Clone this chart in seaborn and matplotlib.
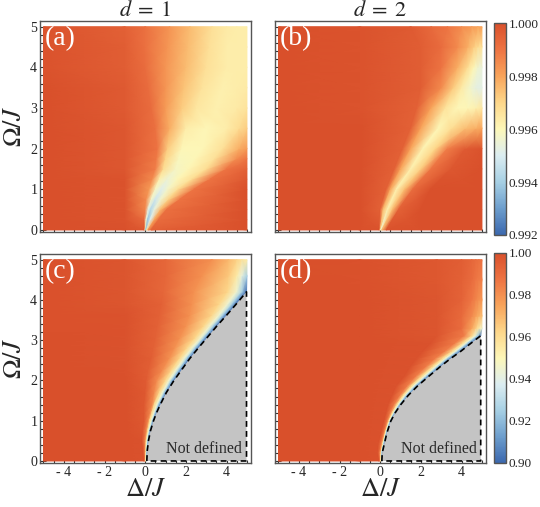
import matplotlib
matplotlib.use("Agg")
import matplotlib.pyplot as plt
from matplotlib.colors import LinearSegmentedColormap
from matplotlib.ticker import MultipleLocator
import numpy as np
import seaborn as sns

# ---- values (rows of Omega, knots along Delta) ----
A_OMEGA = [0.0, 0.25, 0.5, 0.75, 1.0, 1.25, 1.5, 1.75, 2.0, 2.5, 3.0, 3.5, 4.0, 4.5, 5.0]
A_DELTA = [
    [-5, -1, -0.05, 0.0, 0.03, 0.07, 0.15, 0.3, 5],
    [-5, -1, -0.05, 0.05, 0.12, 0.25, 0.45, 0.65, 5],
    [-5, -1, 0.0, 0.15, 0.27, 0.45, 0.75, 1.05, 5],
    [-5, -1, 0.05, 0.3, 0.5, 0.75, 1.15, 1.7, 5],
    [-5, -1, 0.2, 0.5, 0.8, 1.1, 1.6, 2.4, 5],
    [-5, -1, 0.35, 0.7, 1.1, 1.6, 2.3, 3.2, 5],
    [-5, -1, 0.5, 0.9, 1.5, 2.1, 3.0, 4.0, 5],
    [-5, -1, 0.55, 1.0, 1.65, 2.45, 3.4, 4.5, 5],
    [-5, -1, 0.6, 1.1, 1.8, 2.8, 3.8, 4.6, 5],
    [-5, -1, 0.5, 1.2, 2.0, 3.0, 4.0, 4.6, 5],
    [-5, -1, 0.3, 1.0, 1.8, 2.5, 3.5, 4.5, 5],
    [-5, -1, 0.15, 1.0, 1.9, 2.8, 3.8, 4.5, 5],
    [-5, -1, 0.0, 1.0, 2.0, 3.0, 4.0, 4.5, 5],
    [-5, -1, 0.0, 1.1, 2.1, 3.15, 4.0, 4.5, 5],
    [-5, -1, 0.0, 1.2, 2.2, 3.3, 4.0, 4.5, 5],
]
A_VALUE = [
    [1.0, 1.0, 0.9998, 0.9968, 0.9937, 0.9968, 0.9985, 0.9995, 1.0],
    [1.0, 0.9999, 0.9993, 0.9955, 0.9937, 0.9950, 0.9980, 0.9992, 1.0],
    [1.0, 0.9999, 0.9986, 0.9952, 0.9942, 0.9953, 0.9976, 0.9991, 1.0],
    [1.0, 0.9999, 0.9985, 0.9957, 0.9947, 0.9956, 0.9971, 0.9990, 1.0],
    [1.0, 0.9999, 0.9982, 0.9958, 0.9951, 0.9957, 0.9968, 0.9990, 1.0],
    [1.0, 0.9999, 0.9985, 0.9962, 0.9955, 0.9960, 0.9968, 0.9990, 0.9998],
    [1.0, 0.9998, 0.9988, 0.9968, 0.9958, 0.9960, 0.9968, 0.9990, 0.9995],
    [1.0, 0.9998, 0.9989, 0.9970, 0.9959, 0.9960, 0.9967, 0.9985, 0.9990],
    [1.0, 0.9998, 0.9990, 0.9972, 0.9960, 0.9960, 0.9967, 0.9978, 0.9982],
    [1.0, 0.9998, 0.9991, 0.9978, 0.9963, 0.9960, 0.9963, 0.9968, 0.9972],
    [1.0, 0.9997, 0.9992, 0.9982, 0.9972, 0.9965, 0.9962, 0.9964, 0.9966],
    [1.0, 0.9997, 0.9992, 0.9983, 0.9974, 0.9966, 0.9962, 0.9963, 0.9964],
    [0.9999, 0.9996, 0.9992, 0.9983, 0.9975, 0.9967, 0.9963, 0.9963, 0.9963],
    [0.9999, 0.9996, 0.9991, 0.9983, 0.9975, 0.9967, 0.9963, 0.9963, 0.9963],
    [0.9999, 0.9995, 0.9991, 0.9983, 0.9975, 0.9967, 0.9964, 0.9963, 0.9963],
]

B_OMEGA = [0.0, 0.5, 1.0, 1.5, 2.0, 2.5, 3.0, 3.5, 4.0, 4.5, 5.0]
B_DELTA = [
    [-5, -1, -0.05, 0.0, 0.03, 0.08, 0.3, 2.0, 5],
    [-5, -1, 0.0, 0.15, 0.36, 0.6, 0.9, 2.0, 5],
    [-5, -1, 0.3, 0.5, 0.8, 1.2, 1.6, 2.5, 5],
    [-5, -1, 0.7, 1.0, 1.5, 2.0, 2.5, 3.5, 5],
    [-5, -1, 1.1, 1.5, 2.1, 2.7, 3.3, 4.2, 5],
    [-5, -1, 1.5, 2.0, 2.85, 3.5, 4.2, 4.7, 5],
    [-5, -1, 1.8, 2.5, 3.2, 3.8, 4.3, 4.7, 5],
    [-5, -1, 2.0, 3.0, 3.6, 4.0, 4.4, 4.7, 5],
    [-5, -1, 2.0, 3.0, 3.8, 4.3, 4.6, 4.8, 5],
    [-5, -1, 2.0, 3.0, 3.8, 4.3, 4.6, 4.8, 5],
    [-5, -1, 1.5, 2.5, 3.3, 4.0, 4.5, 4.8, 5],
]
B_VALUE = [
    [1.0, 1.0, 0.9999, 0.9975, 0.9955, 0.9975, 0.9999, 1.0, 1.0],
    [1.0, 1.0, 0.9995, 0.9975, 0.9962, 0.9975, 0.9995, 1.0, 1.0],
    [1.0, 1.0, 0.9995, 0.9980, 0.9962, 0.9975, 0.9992, 1.0, 1.0],
    [1.0, 1.0, 0.9995, 0.9980, 0.9962, 0.9972, 0.9990, 0.9998, 1.0],
    [1.0, 1.0, 0.9995, 0.9980, 0.9961, 0.9970, 0.9988, 0.9997, 0.9999],
    [1.0, 1.0, 0.9995, 0.9980, 0.9960, 0.9968, 0.9975, 0.9978, 0.9980],
    [1.0, 0.9999, 0.9995, 0.9980, 0.9966, 0.9960, 0.9960, 0.9962, 0.9965],
    [1.0, 0.9999, 0.9996, 0.9985, 0.9972, 0.9964, 0.9957, 0.9953, 0.9952],
    [1.0, 0.9999, 0.9996, 0.9990, 0.9978, 0.9968, 0.9960, 0.9956, 0.9954],
    [1.0, 0.9999, 0.9996, 0.9992, 0.9985, 0.9978, 0.9972, 0.9968, 0.9966],
    [1.0, 0.9999, 0.9997, 0.9993, 0.9990, 0.9985, 0.9982, 0.9980, 0.9980],
]

# (c) and (d): the last knot of the lower rows lies on the "not defined" border
C_OMEGA = [0.0, 0.25, 0.5, 0.75, 1.0, 1.2, 1.4, 1.7, 1.98, 2.25, 2.55, 2.8,
           3.05, 3.35, 3.62, 3.9, 4.2, 4.6, 5.0]
C_DELTA = [
    [-5, -1, -0.05, 0.0, 0.03, 0.05, 0.065, 0.08],
    [-5, -1, -0.10, 0.0, 0.03, 0.06, 0.08, 0.10],
    [-5, -1, -0.15, 0.0, 0.05, 0.09, 0.125, 0.16],
    [-5, -1, -0.12, 0.06, 0.12, 0.17, 0.215, 0.26],
    [-5, -1, -0.05, 0.15, 0.22, 0.30, 0.36, 0.41],
    [-5, -1, -0.05, 0.25, 0.33, 0.43, 0.50, 0.56],
    [-5, -1, -0.05, 0.35, 0.45, 0.58, 0.66, 0.74],
    [-5, -1, 0.0, 0.45, 0.70, 0.85, 0.95, 1.04],
    [-5, -1, 0.05, 0.57, 0.98, 1.15, 1.27, 1.39],
    [-5, -1, 0.15, 0.85, 1.30, 1.50, 1.64, 1.77],
    [-5, -1, 0.3, 1.2, 1.70, 1.92, 2.06, 2.20],
    [-5, -1, 0.4, 1.45, 2.05, 2.30, 2.45, 2.60],
    [-5, -1, 0.5, 1.7, 2.45, 2.72, 2.87, 3.02],
    [-5, -1, 0.6, 2.0, 2.88, 3.18, 3.36, 3.52],
    [-5, -1, 0.7, 2.2, 3.28, 3.63, 3.82, 4.00],
    [-5, -1, 0.8, 2.3, 3.65, 4.05, 4.28, 4.48],
    [-5, -1, 0.9, 2.4, 4.05, 4.48, 4.75, 4.98],
    [-5, -1, 1.0, 2.8, 4.1, 4.5, 4.75, 5.0],
    [-5, -1, 1.0, 3.3, 4.1, 4.5, 4.75, 5.0],
]
C_VALUE = [
    [1.0, 1.0, 0.999, 0.982, 0.962, 0.945, 0.925, 0.90],
    [1.0, 1.0, 0.999, 0.982, 0.962, 0.945, 0.925, 0.90],
    [1.0, 1.0, 0.999, 0.982, 0.962, 0.945, 0.925, 0.90],
    [1.0, 1.0, 0.998, 0.982, 0.962, 0.945, 0.925, 0.90],
    [1.0, 1.0, 0.997, 0.982, 0.962, 0.945, 0.925, 0.90],
    [1.0, 1.0, 0.997, 0.982, 0.962, 0.945, 0.925, 0.90],
    [1.0, 1.0, 0.997, 0.982, 0.962, 0.945, 0.925, 0.90],
    [1.0, 1.0, 0.997, 0.982, 0.962, 0.945, 0.925, 0.90],
    [1.0, 1.0, 0.996, 0.981, 0.962, 0.945, 0.925, 0.90],
    [1.0, 0.9995, 0.995, 0.981, 0.962, 0.945, 0.925, 0.90],
    [1.0, 0.999, 0.995, 0.980, 0.962, 0.945, 0.925, 0.90],
    [1.0, 0.999, 0.994, 0.980, 0.962, 0.945, 0.925, 0.90],
    [1.0, 0.999, 0.994, 0.980, 0.962, 0.945, 0.925, 0.90],
    [0.9995, 0.999, 0.994, 0.980, 0.962, 0.945, 0.925, 0.90],
    [0.9995, 0.999, 0.994, 0.980, 0.962, 0.945, 0.925, 0.90],
    [0.9995, 0.998, 0.994, 0.980, 0.962, 0.945, 0.925, 0.90],
    [0.9995, 0.998, 0.992, 0.980, 0.962, 0.945, 0.925, 0.90],
    [0.9995, 0.998, 0.992, 0.980, 0.966, 0.955, 0.942, 0.925],
    [0.9995, 0.998, 0.992, 0.980, 0.970, 0.964, 0.958, 0.955],
]
C_BORDER_OMEGA = [0.0, 0.25, 0.5, 0.75, 1.0, 1.2, 1.4, 1.7, 1.98, 2.25, 2.55, 2.8,
                  3.05, 3.35, 3.62, 3.9, 4.2]
C_BORDER_DELTA = [0.08, 0.10, 0.16, 0.26, 0.41, 0.56, 0.74, 1.04, 1.39, 1.77, 2.20, 2.60,
                  3.02, 3.52, 4.00, 4.48, 4.98]

D_OMEGA = [0.0, 0.2, 0.42, 0.7, 0.99, 1.2, 1.4, 1.63, 1.86, 2.1, 2.35, 2.54, 2.72,
           2.92, 3.11, 3.3, 3.6, 4.0, 4.5, 5.0]
D_DELTA = [
    [-5, -1, -0.05, 0.0, 0.03, 0.05, 0.065, 0.08],
    [-5, -1, -0.12, -0.02, 0.04, 0.06, 0.08, 0.10],
    [-5, -1, -0.08, 0.05, 0.12, 0.15, 0.175, 0.20],
    [-5, -1, 0.05, 0.19, 0.25, 0.28, 0.305, 0.33],
    [-5, -1, 0.2, 0.35, 0.42, 0.46, 0.49, 0.52],
    [-5, -1, 0.3, 0.50, 0.60, 0.66, 0.70, 0.74],
    [-5, -1, 0.4, 0.69, 0.82, 0.89, 0.95, 1.01],
    [-5, -1, 0.6, 0.98, 1.13, 1.22, 1.30, 1.38],
    [-5, -1, 0.8, 1.33, 1.52, 1.63, 1.73, 1.83],
    [-5, -1, 1.2, 1.76, 2.03, 2.16, 2.27, 2.38],
    [-5, -1, 1.5, 2.28, 2.59, 2.73, 2.85, 2.97],
    [-5, -1, 1.8, 2.70, 3.05, 3.19, 3.31, 3.45],
    [-5, -1, 2.1, 3.18, 3.53, 3.68, 3.80, 3.95],
    [-5, -1, 2.5, 3.67, 4.03, 4.18, 4.30, 4.45],
    [-5, -1, 2.8, 4.12, 4.50, 4.66, 4.79, 4.94],
    [-5, -1, 2.8, 4.0, 4.5, 4.7, 4.85, 5.0],
    [-5, -1, 2.8, 4.0, 4.5, 4.7, 4.85, 5.0],
    [-5, -1, 2.8, 4.0, 4.5, 4.7, 4.85, 5.0],
    [-5, -1, 2.8, 4.0, 4.5, 4.7, 4.85, 5.0],
    [-5, -1, 2.8, 4.0, 4.5, 4.7, 4.85, 5.0],
]
D_VALUE = [
    [1.0, 1.0, 0.999, 0.985, 0.962, 0.945, 0.925, 0.90],
    [1.0, 1.0, 0.999, 0.985, 0.962, 0.945, 0.925, 0.90],
    [1.0, 1.0, 0.999, 0.985, 0.962, 0.945, 0.925, 0.90],
    [1.0, 1.0, 0.999, 0.985, 0.962, 0.945, 0.925, 0.90],
    [1.0, 1.0, 0.999, 0.985, 0.962, 0.945, 0.925, 0.90],
    [1.0, 1.0, 0.999, 0.985, 0.962, 0.945, 0.925, 0.90],
    [1.0, 1.0, 0.999, 0.985, 0.962, 0.945, 0.925, 0.90],
    [1.0, 1.0, 0.999, 0.985, 0.962, 0.945, 0.925, 0.90],
    [1.0, 1.0, 0.999, 0.985, 0.962, 0.945, 0.925, 0.90],
    [1.0, 1.0, 0.999, 0.985, 0.962, 0.945, 0.925, 0.90],
    [1.0, 1.0, 0.999, 0.985, 0.962, 0.945, 0.925, 0.90],
    [1.0, 1.0, 0.999, 0.985, 0.962, 0.945, 0.925, 0.90],
    [1.0, 1.0, 0.999, 0.985, 0.962, 0.945, 0.925, 0.90],
    [1.0, 1.0, 0.999, 0.985, 0.962, 0.945, 0.925, 0.90],
    [1.0, 1.0, 0.998, 0.985, 0.962, 0.945, 0.925, 0.90],
    [1.0, 1.0, 0.998, 0.990, 0.975, 0.965, 0.955, 0.945],
    [1.0, 1.0, 0.998, 0.991, 0.982, 0.976, 0.972, 0.968],
    [1.0, 1.0, 0.998, 0.993, 0.987, 0.983, 0.980, 0.978],
    [1.0, 0.9995, 0.997, 0.994, 0.990, 0.987, 0.985, 0.984],
    [1.0, 0.9995, 0.997, 0.995, 0.992, 0.990, 0.989, 0.988],
]
D_BORDER_OMEGA = [0.0, 0.2, 0.42, 0.7, 0.99, 1.2, 1.4, 1.63, 1.86, 2.1, 2.35, 2.54,
                  2.72, 2.92, 3.11]
D_BORDER_DELTA = [0.08, 0.10, 0.20, 0.33, 0.52, 0.74, 1.01, 1.38, 1.83, 2.38, 2.97, 3.45,
                  3.95, 4.45, 4.94]

TOP_TICKS = [0.992, 0.994, 0.996, 0.998, 1.000]
BOTTOM_TICKS = [0.90, 0.92, 0.94, 0.96, 0.98, 1.00]
X_TICKS = [-4, -2, 0, 2, 4]
X_TICKLABELS = ["- 4", "- 2", "0", "2", "4"]
Y_TICKS = [0, 1, 2, 3, 4, 5]

CMAP_STOPS = [0.0, 0.125, 0.25, 0.375, 0.5, 0.625, 0.75, 0.875, 1.0]
CMAP_COLORS = ["#3b68ae", "#6d9ecd", "#a7d0e4", "#dcedf1", "#fdf7b8",
               "#fdd78a", "#f8a45b", "#ee7443", "#d9502b"]

sns.set_theme(style="ticks")
plt.rcParams["font.family"] = ["Liberation Serif", "DejaVu Serif"]
plt.rcParams["mathtext.fontset"] = "stix"

cmap = LinearSegmentedColormap.from_list("temp", list(zip(CMAP_STOPS, CMAP_COLORS)))
FRAME = "#555555"


def draw_field(ax, omega, delta, value, vmin, vmax):
    X = np.array(delta, dtype=float)
    Y = np.repeat(np.array(omega, dtype=float)[:, None], X.shape[1], axis=1)
    C = np.array(value, dtype=float)
    return ax.pcolormesh(X, Y, C, shading="gouraud", cmap=cmap, vmin=vmin, vmax=vmax)


def not_defined(ax, b_omega, b_delta):
    xs = list(b_delta) + [b_delta[-1], b_delta[0]]
    ys = list(b_omega) + [0.0, 0.0]
    ax.fill(xs, ys, facecolor="#c4c4c4", edgecolor="none", zorder=3)
    sns.lineplot(x=xs, y=ys, sort=False, estimator=None, ax=ax, color="black",
                 linewidth=1.2, linestyle=(0, (3.5, 2.5)), zorder=4)
    ax.text(4.75, 0.2, "Not defined", ha="right", va="baseline", fontsize=11.5,
            color="#2a2a2a", zorder=5)


def style_axes(ax, label, xlabels, ylabels):
    ax.set_xlim(-5.17, 5.2)
    ax.set_ylim(-0.05, 5.14)
    ax.set_facecolor("white")
    for sp in ax.spines.values():
        sp.set_color(FRAME)
        sp.set_linewidth(1.0)
    ax.set_xticks(X_TICKS)
    ax.set_yticks(Y_TICKS)
    ax.xaxis.set_minor_locator(MultipleLocator(0.5))
    ax.yaxis.set_minor_locator(MultipleLocator(0.2))
    ax.tick_params(which="both", direction="in", top=False, right=False,
                   color="#333333", width=0.8, labelsize=10, pad=2)
    ax.tick_params(which="major", length=4)
    ax.tick_params(which="minor", length=2)
    if xlabels:
        ax.set_xticklabels(X_TICKLABELS)
        ax.set_xlabel(r"$\Delta/J$", fontsize=19, labelpad=0)
    else:
        ax.set_xticklabels([])
    if ylabels:
        ax.set_yticklabels([str(t) for t in Y_TICKS])
        ax.set_ylabel(r"$\Omega/J$", fontsize=19, labelpad=3)
    else:
        ax.set_yticklabels([])
    ax.text(-4.95, 5.02, label, color="white", fontsize=20, ha="left", va="top", zorder=6)


def style_cbar(cb, ticks, fmt, minor_step):
    cb.set_ticks(ticks)
    cb.set_ticklabels([fmt.format(t) for t in ticks])
    cb.ax.yaxis.set_minor_locator(MultipleLocator(minor_step))
    cb.ax.tick_params(which="both", direction="in", color="#333333", width=0.7,
                      labelsize=9.5, pad=2)
    cb.ax.tick_params(which="major", length=4)
    cb.ax.tick_params(which="minor", length=2)
    cb.outline.set_edgecolor(FRAME)
    cb.outline.set_linewidth(1.0)


fig = plt.figure(figsize=(5.4, 5.07), dpi=100)
ax_a = fig.add_axes([0.0741, 0.5424, 0.3907, 0.4162])
ax_b = fig.add_axes([0.5093, 0.5424, 0.3907, 0.4162])
ax_c = fig.add_axes([0.0741, 0.0868, 0.3907, 0.4122])
ax_d = fig.add_axes([0.5093, 0.0868, 0.3907, 0.4122])
cax_top = fig.add_axes([0.9148, 0.5365, 0.0222, 0.4181])
cax_bot = fig.add_axes([0.9148, 0.0868, 0.0222, 0.4142])

m_top = draw_field(ax_a, A_OMEGA, A_DELTA, A_VALUE, 0.992, 1.0)
draw_field(ax_b, B_OMEGA, B_DELTA, B_VALUE, 0.992, 1.0)
m_bot = draw_field(ax_c, C_OMEGA, C_DELTA, C_VALUE, 0.90, 1.0)
draw_field(ax_d, D_OMEGA, D_DELTA, D_VALUE, 0.90, 1.0)

not_defined(ax_c, C_BORDER_OMEGA, C_BORDER_DELTA)
not_defined(ax_d, D_BORDER_OMEGA, D_BORDER_DELTA)

style_axes(ax_a, "(a)", False, True)
style_axes(ax_b, "(b)", False, False)
style_axes(ax_c, "(c)", True, True)
style_axes(ax_d, "(d)", True, False)

ax_a.set_title(r"$d\;=\;1$", fontsize=16, pad=2)
ax_b.set_title(r"$d\;=\;2$", fontsize=16, pad=2)

cb_top = fig.colorbar(m_top, cax=cax_top)
style_cbar(cb_top, TOP_TICKS, "{:.3f}", 0.0005)
cb_bot = fig.colorbar(m_bot, cax=cax_bot)
style_cbar(cb_bot, BOTTOM_TICKS, "{:.2f}", 0.005)

fig.savefig("out.png", dpi=100)
